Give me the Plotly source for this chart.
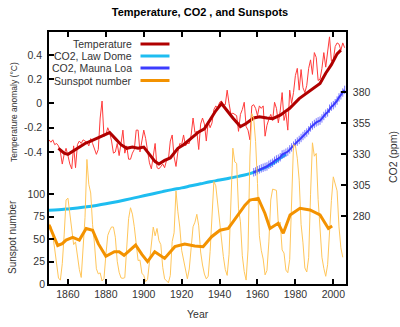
import plotly.graph_objects as go

# ---------------- data ----------------
temp_years = list(range(1850, 2007))
temp_raw = [
    -0.30, -0.32, -0.30, -0.34, -0.33, -0.35, -0.40, -0.50, -0.42, -0.37,
    -0.43, -0.50, -0.54, -0.35, -0.53, -0.34, -0.31, -0.33, -0.30, -0.31,
    -0.32, -0.35, -0.29, -0.33, -0.38, -0.42, -0.38, -0.12, 0.02, -0.27,
    -0.26, -0.20, -0.24, -0.31, -0.41, -0.40, -0.33, -0.43, -0.33, -0.22,
    -0.41, -0.35, -0.46, -0.46, -0.41, -0.38, -0.22, -0.22, -0.40, -0.29,
    -0.22, -0.29, -0.40, -0.49, -0.54, -0.42, -0.33, -0.53, -0.54, -0.52,
    -0.50, -0.53, -0.47, -0.46, -0.31, -0.26, -0.44, -0.52, -0.40, -0.33,
    -0.34, -0.26, -0.35, -0.33, -0.33, -0.26, -0.12, -0.24, -0.23, -0.38,
    -0.17, -0.12, -0.17, -0.31, -0.15, -0.20, -0.16, -0.05, -0.02, -0.04,
    0.01, 0.02, -0.01, -0.01, 0.11, 0.00, -0.09, -0.08, -0.09, -0.10,
    -0.23, -0.09, -0.05, 0.01, -0.19, -0.22, -0.30, -0.02, -0.01, -0.04,
    -0.10, -0.02, -0.04, -0.02, -0.27, -0.18, -0.13, -0.09, -0.14, 0.01,
    -0.04, -0.16, -0.06, 0.09, -0.14, -0.08, -0.22, 0.11, 0.00, 0.09,
    0.23, 0.29, 0.11, 0.28, 0.13, 0.09, 0.15, 0.29, 0.36, 0.24,
    0.42, 0.38, 0.19, 0.20, 0.29, 0.42, 0.30, 0.43, 0.55, 0.35,
    0.36, 0.47, 0.50, 0.49, 0.44, 0.50, 0.46,
]

temp_smooth_years = [1855, 1858, 1860, 1863, 1866, 1869, 1872, 1875, 1878, 1882,
                     1885, 1888, 1891, 1894, 1897, 1900, 1903, 1906, 1908, 1911,
                     1914, 1918, 1921, 1924, 1929, 1932, 1936, 1938, 1941, 1944,
                     1947, 1951, 1954, 1958, 1961, 1965, 1968, 1972, 1977, 1982,
                     1988, 1993, 1996, 1999, 2002, 2004]
temp_smooth = [-0.37, -0.41, -0.42, -0.39, -0.36, -0.33, -0.31, -0.29, -0.27, -0.24,
               -0.29, -0.34, -0.37, -0.36, -0.37, -0.36, -0.42, -0.48, -0.50, -0.47,
               -0.45, -0.37, -0.34, -0.30, -0.235, -0.21, -0.11, -0.06, 0.0, -0.06,
               -0.12, -0.19, -0.165, -0.12, -0.11, -0.12, -0.125, -0.097, -0.04, 0.04,
               0.11, 0.165, 0.25, 0.32, 0.41, 0.44]

law_dome_years = list(range(1850, 1976, 5))
law_dome_co2 = [284.7, 285.0, 285.7, 286.5, 287.4, 288.5, 289.8, 291.3, 292.9, 294.6,
                296.3, 298.0, 299.7, 301.3, 302.7, 304.4, 306.0, 307.6, 309.0, 310.5,
                312.0, 313.8, 316.5, 319.8, 324.5, 330.0]

mauna_loa_years = list(range(1958, 2007))
mauna_loa_co2 = [315.3, 315.97, 316.91, 317.64, 318.45, 318.99, 319.62, 320.04, 321.38, 322.16,
                 323.04, 324.62, 325.68, 326.32, 327.45, 329.68, 330.18, 331.11, 332.04, 333.83,
                 335.40, 336.84, 338.75, 340.11, 341.45, 343.05, 344.65, 346.12, 347.42, 349.19,
                 351.57, 353.12, 354.39, 355.61, 356.45, 357.10, 358.83, 360.82, 362.61, 363.73,
                 366.70, 368.38, 369.55, 371.14, 373.28, 375.80, 377.52, 379.80, 381.90]

sun_years = list(range(1845, 2006))
sun_raw = [
    40.1, 61.5, 98.5, 124.7, 96.3,
    66.5, 64.5, 54.1, 39.0, 20.6, 6.7, 4.3, 22.7, 54.8, 93.8,
    95.8, 77.2, 59.1, 44.0, 47.0, 30.5, 16.3, 7.3, 37.6, 74.0,
    139.0, 111.2, 101.6, 66.2, 44.7, 17.0, 11.3, 12.4, 3.4, 6.0,
    32.3, 54.3, 59.7, 63.7, 63.5, 52.2, 25.4, 13.1, 6.8, 6.3,
    7.1, 35.6, 73.0, 85.1, 78.0, 64.0, 41.8, 26.2, 26.7, 12.1,
    9.5, 2.7, 5.0, 24.4, 42.0, 63.5, 53.8, 62.0, 48.5, 43.9,
    18.6, 5.7, 3.6, 1.4, 9.6, 47.4, 57.1, 103.9, 80.6, 63.6,
    37.6, 26.1, 14.2, 5.8, 16.7, 44.3, 63.9, 69.0, 77.8, 64.9,
    35.7, 21.2, 11.1, 5.7, 8.7, 36.1, 79.7, 114.4, 109.6, 88.8,
    67.8, 47.5, 30.6, 16.3, 9.6, 33.2, 92.6, 151.6, 136.3, 134.7,
    83.9, 69.4, 31.5, 13.9, 4.4, 38.0, 141.7, 190.2, 184.8, 159.0,
    112.3, 53.9, 37.6, 27.9, 10.2, 15.1, 47.0, 93.8, 105.9, 105.5,
    104.5, 66.6, 68.9, 38.0, 34.5, 15.5, 12.6, 27.5, 92.5, 155.4,
    154.6, 140.4, 115.9, 66.6, 45.9, 17.9, 13.4, 29.4, 100.2, 157.6,
    142.6, 145.7, 94.3, 54.6, 29.9, 17.5, 8.6, 21.5, 64.3, 93.3,
    119.6, 111.0, 104.0, 63.7, 40.4, 29.8,
]

sun_smooth_years = [1850, 1852, 1854.6, 1857, 1859, 1862.5, 1866, 1869.6, 1873, 1876,
                    1880, 1884.5, 1887, 1889.6, 1893, 1895.7, 1899, 1902, 1905.8, 1908,
                    1911, 1916.4, 1921.6, 1926.9, 1931.3, 1935.8, 1940.2, 1944.6, 1949, 1953.4,
                    1956, 1960.4, 1963.9, 1966.6, 1970.9, 1973.6, 1977.2, 1982.4, 1987.7, 1993,
                    1997.4, 1999.4]
sun_smooth = [66, 55, 43, 45, 49, 52, 49, 62, 60, 45,
              31, 36, 36, 32, 38, 43.5, 33, 25, 36, 33,
              28.6, 41.7, 44.6, 42.4, 41.7, 52.8, 60, 62, 75, 88,
              93.7, 95.6, 79, 62, 67.7, 56.6, 77, 84.5, 82.6, 77,
              62, 64.7]

x_ticks = [1860, 1880, 1900, 1920, 1940, 1960, 1980, 2000]
temp_ticks = [-0.4, -0.2, 0, 0.2, 0.4]
temp_tick_text = ["-0.4", "-0.2", "0", "0.2", "0.4"]
sun_ticks = [0, 25, 50, 75, 100]
co2_ticks = [280, 305, 330, 355, 380]

legend_labels = ["Temperature", "CO2, Law Dome", "CO2, Mauna Loa", "Sunspot number"]

# ---------------- styles ----------------
FONT = "Liberation Sans, Arial, sans-serif"
TXT = "#333333"
C_TEMP_RAW = "#ff3b3b"
C_TEMP = "#b00000"
C_LAW = "#1ebdf0"
C_ML = "#3c3cff"
C_SUN_RAW = "#ffc65a"
C_SUN = "#f39200"
legend_colors = [C_TEMP, C_LAW, C_ML, C_SUN]

fig = go.Figure()

fig.add_trace(go.Scatter(x=sun_years, y=sun_raw, yaxis="y3", mode="lines",
                         line=dict(color=C_SUN_RAW, width=1), name="Sunspot (annual)"))
fig.add_trace(go.Scatter(x=sun_smooth_years, y=sun_smooth, yaxis="y3", mode="lines",
                         line=dict(color=C_SUN, width=3), name="Sunspot number"))
fig.add_trace(go.Scatter(x=law_dome_years, y=law_dome_co2, yaxis="y2", mode="lines",
                         line=dict(color=C_LAW, width=3, shape="spline"), name="CO2, Law Dome"))
fig.add_trace(go.Scatter(x=mauna_loa_years, y=mauna_loa_co2, yaxis="y2", mode="lines+markers",
                         line=dict(color=C_ML, width=2),
                         marker=dict(symbol="line-ns", size=6,
                                     line=dict(color="rgba(60,60,255,0.7)", width=1)),
                         name="CO2, Mauna Loa"))
fig.add_trace(go.Scatter(x=temp_years, y=temp_raw, yaxis="y", mode="lines",
                         line=dict(color=C_TEMP_RAW, width=1), name="Temperature (annual)"))
fig.add_trace(go.Scatter(x=temp_smooth_years, y=temp_smooth, yaxis="y", mode="lines",
                         line=dict(color=C_TEMP, width=3), name="Temperature"))

axis_common = dict(showgrid=False, zeroline=False, ticks="inside", ticklen=5,
                   tickwidth=1.5, tickcolor="black",
                   tickfont=dict(family=FONT, size=10.5, color=TXT))

fig.update_layout(
    width=400, height=327,
    margin=dict(l=49, r=54, t=32, b=43),
    plot_bgcolor="white", paper_bgcolor="white",
    showlegend=False,
    font=dict(family=FONT, color=TXT),
    title=dict(text="<b>Temperature, CO2 , and Sunspots</b>", x=0.5, xanchor="center",
               y=1 - 12.5 / 327, yanchor="middle", yref="container",
               font=dict(family=FONT, size=11, color="black")),
    xaxis=dict(range=[1850, 2006.7], tickvals=x_ticks, showline=True, linewidth=1.5,
               linecolor="black", mirror="ticks", **axis_common),
    yaxis=dict(range=[-1.49, 0.59], tickvals=temp_ticks, ticktext=temp_tick_text,
               showline=True, linewidth=1.5, linecolor="black", ticklabelstandoff=3,
               **axis_common),
    yaxis2=dict(range=[225, 428.7], tickvals=co2_ticks, overlaying="y", side="right",
                showline=True, linewidth=1.5, linecolor="black", ticklabelstandoff=3,
                **axis_common),
    yaxis3=dict(range=[0, 281.25], tickvals=sun_ticks, overlaying="y", side="left",
                showline=False, ticklabelstandoff=3, **axis_common),
)

# axis titles
def px_x(px):
    return (px - 49.0) / 297.0

def px_y(py):
    return (284.0 - py) / 252.0

annos = [
    dict(text="Year", x=0.5, y=px_y(314), xanchor="center", yanchor="middle", size=10.5),
    dict(text="Temperature anomaly (°C)", x=px_x(14), y=px_y(112), textangle=-90,
         xanchor="center", yanchor="middle", size=8.5),
    dict(text="Sunspot number", x=px_x(12), y=px_y(237), textangle=-90,
         xanchor="center", yanchor="middle", size=10),
    dict(text="CO2 (ppm)", x=px_x(393), y=px_y(157), textangle=-90,
         xanchor="center", yanchor="middle", size=10.5),
]
legend_rows = [44, 56, 68, 80.5]
for lab, row in zip(legend_labels, legend_rows):
    annos.append(dict(text=lab, x=px_x(134), y=px_y(row), xanchor="right",
                      yanchor="middle", size=10.5))
for a in annos:
    sz = a.pop("size")
    a.update(xref="paper", yref="paper", showarrow=False,
             font=dict(family=FONT, size=sz, color=TXT))
fig.update_layout(annotations=annos)

shapes = []
for col, row in zip(legend_colors, legend_rows):
    shapes.append(dict(type="line", xref="paper", yref="paper",
                       x0=px_x(140.5), x1=px_x(169.5), y0=px_y(row), y1=px_y(row),
                       line=dict(color=col, width=3)))
fig.update_layout(shapes=shapes)

fig.write_html("out.html")
